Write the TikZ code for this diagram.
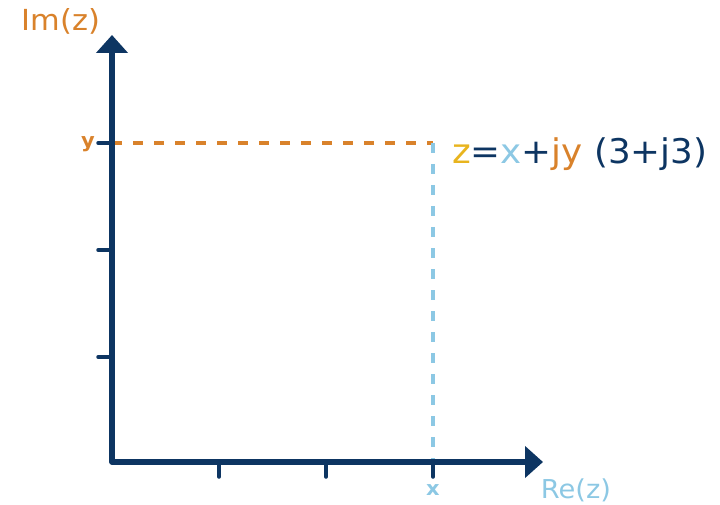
\documentclass[tikz,border=0pt]{standalone}
\usepackage{fontspec}
\setmainfont{DejaVu Sans}[FakeStretch=1.05]
\usetikzlibrary{arrows.meta}
\definecolor{navy}{HTML}{0D3562}
\definecolor{orng}{HTML}{D9822B}
\definecolor{lblue}{HTML}{8CC8E4}
\definecolor{yel}{HTML}{E8B41E}
\tikzset{
  axisline/.style={navy, line width=5.5pt, line join=round,
    {Triangle[width=31pt,length=18pt]}-{Triangle[width=31pt,length=18pt]}},
  tickline/.style={navy, line width=3.5pt, line cap=round},
  guide/.style={line width=3.5pt, dash pattern=on 10pt off 11pt},
  axlabel/.style={inner sep=0pt},
  smalllabel/.style={font=\fontsize{20}{22}\selectfont\bfseries, inner sep=0pt}
}
\begin{document}
\begin{tikzpicture}[x=1pt,y=-1pt]
\useasboundingbox (0,0) rectangle (720,505);
\coordinate (O) at (112,462);
\coordinate (ytop) at (112,35);
\coordinate (xend) at (543,462);
\coordinate (P) at (433,143);
\coordinate (Py) at (112,143);
\coordinate (Px) at (433,462);
% guides
\draw[guide, orng] (Py) -- (P);
\draw[guide, lblue] (P) -- (Px);
% ticks
\foreach \yy/\nm in {143/t1,250/t2,357/t3}{
  \coordinate (\nm a) at (98,\yy); \coordinate (\nm b) at (112,\yy);
  \draw[tickline] (\nm a) -- (\nm b);
}
\foreach \xx/\nm in {219/s1,326/s2,433/s3}{
  \coordinate (\nm a) at (\xx,462); \coordinate (\nm b) at (\xx,477);
  \draw[tickline] (\nm a) -- (\nm b);
}
% axes
\draw[axisline] (ytop) -- (O) -- (xend);
% labels
\node[axlabel, text=orng, font=\fontsize{29}{32}\selectfont] (im) at (61,21) {Im(z)};
\node[axlabel, text=lblue, font=\fontsize{26}{30}\selectfont] (re) at (576,490) {Re(z)};
\node[smalllabel, text=orng] (ylab) at (88,144) {y};
\node[smalllabel, text=lblue] (xlab) at (433,490) {x};
\node[font=\fontsize{34}{38}\selectfont, inner sep=0pt, anchor=base west] (eq) at (452,164)
  {\textcolor{yel}{z}\textcolor{navy}{=}\textcolor{lblue}{x}\textcolor{navy}{+}\textcolor{orng}{jy}\ \textcolor{navy}{(3+j3)}};
\end{tikzpicture}
\end{document}
